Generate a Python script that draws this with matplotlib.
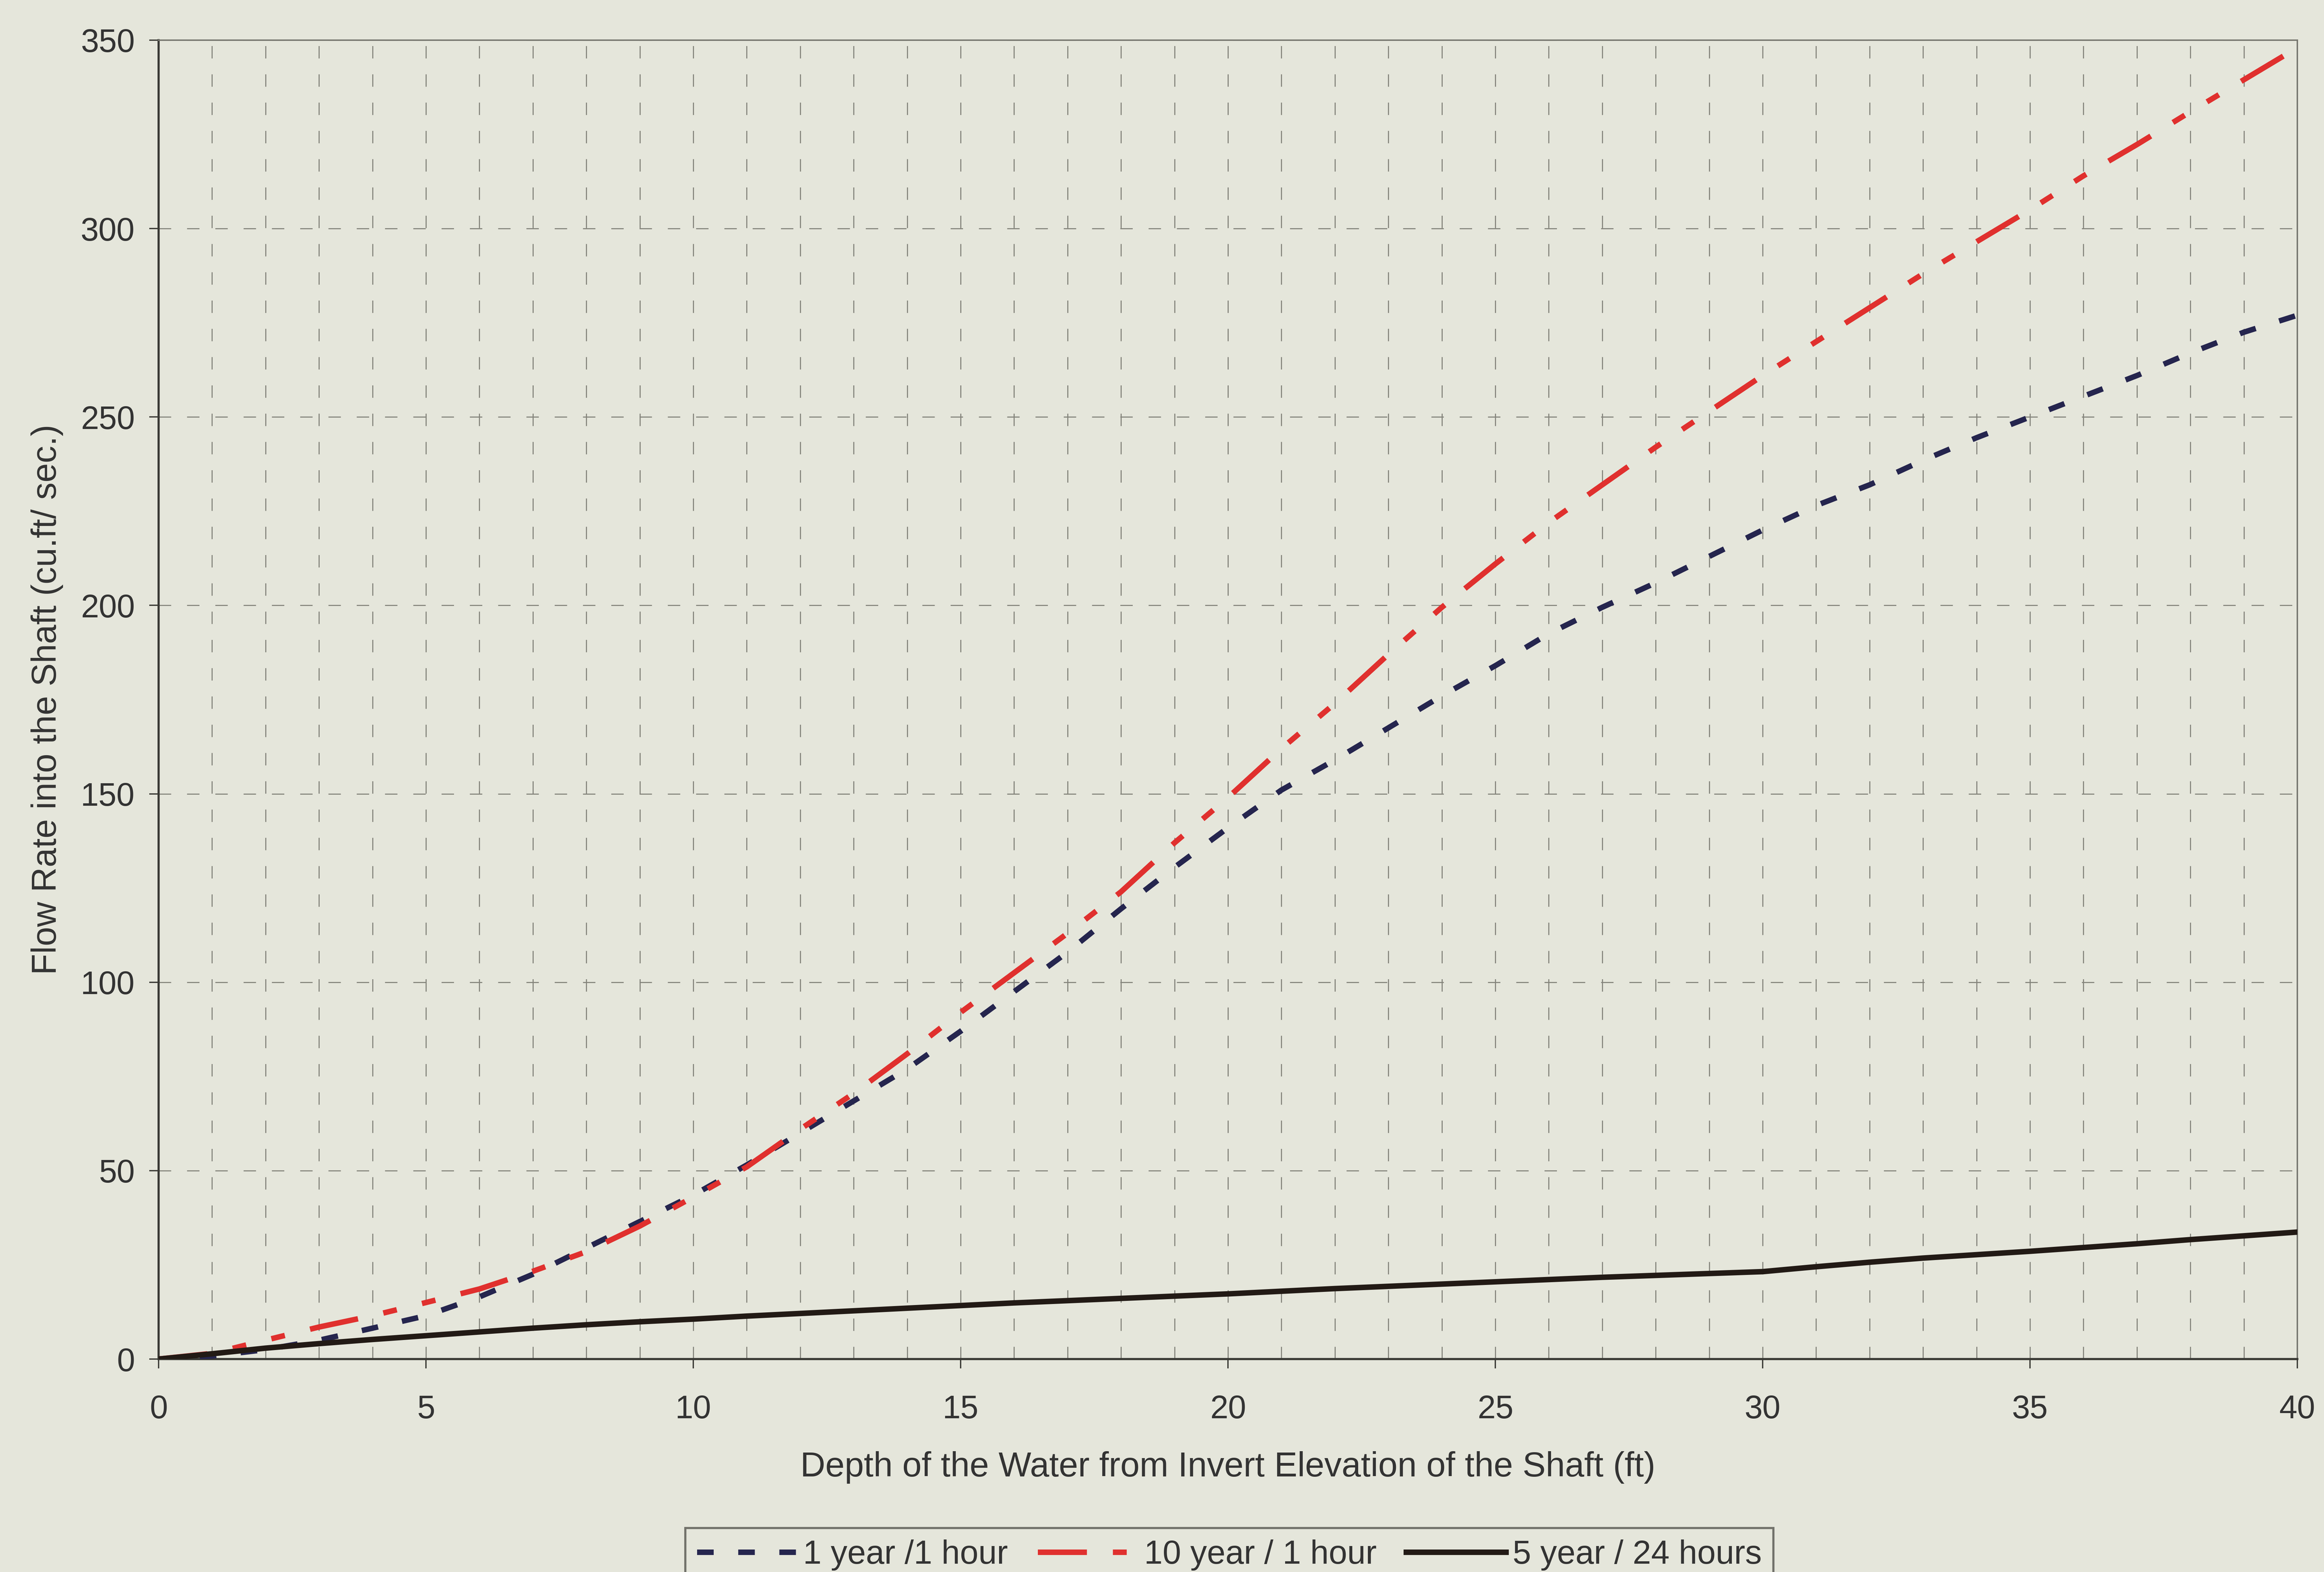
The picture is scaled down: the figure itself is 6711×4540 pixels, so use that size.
import matplotlib
matplotlib.use("Agg")
import matplotlib.pyplot as plt
from matplotlib.ticker import MultipleLocator

plt.rcParams['font.family'] = ['Liberation Sans', 'DejaVu Sans']
plt.rcParams['lines.scale_dashes'] = False

depth = list(range(0, 41))

# 1 year / 1 hour
q_1yr = [0, 0.8, 2.5, 5, 8.2, 11.5, 16.5, 22.5, 29.5, 36.5, 43.5,
         51.5, 60, 68.5, 77, 87, 97.5, 108, 119.5, 130.5, 141,
         151, 159, 167.5, 176, 184, 192.5, 199.5, 206, 213, 220,
         226.5, 232, 238.5, 244.5, 250, 255.5, 261, 267, 272.5, 277]

# 10 year / 1 hour
q_10yr = [0, 1.5, 5, 8.5, 11.5, 15, 18.6, 23.3, 28.5, 35.3, 43,
          51, 61, 70.5, 81, 92, 102.5, 113, 124, 137, 149,
          162, 174, 187, 199.5, 211, 222, 232, 242, 251.5, 261,
          270, 279, 288, 296.5, 305, 314, 322.3, 331, 339.5, 348]

# 5 year / 24 hours
q_5yr = [0, 1.4, 2.9, 4.1, 5.2, 6.2, 7.2, 8.2, 9.1, 9.9, 10.6,
         11.4, 12.1, 12.8, 13.5, 14.2, 14.9, 15.5, 16.1, 16.7, 17.3,
         18, 18.7, 19.3, 19.9, 20.5, 21.1, 21.7, 22.2, 22.7, 23.2,
         24.5, 25.7, 26.8, 27.7, 28.6, 29.6, 30.6, 31.7, 32.7, 33.7]

labels = ["1 year /1 hour", "10 year / 1 hour", "5 year / 24 hours"]

bg = '#e5e6db'
txt = '#333333'

fig = plt.figure(figsize=(6711/300, 4540/300), dpi=300, facecolor=bg)
ax = fig.add_axes([0.06825, 0.13546, 0.92028, 0.83899], facecolor=bg)

lw = 3.8
ax.plot(depth, q_1yr, color='#25254e', lw=lw, dashes=(11.5, 17),
        dash_capstyle='butt', label=labels[0], zorder=3)
ax.plot(depth, q_10yr, color='#e0302e', lw=lw,
        dashes=(34, 18, 9.6, 18, 9.6, 18),
        dash_capstyle='butt', label=labels[1], zorder=3)
ax.plot(depth, q_5yr, color='#221a15', lw=lw, label=labels[2], zorder=4)

ax.set_xlim(0, 40)
ax.set_ylim(0, 350)
ax.xaxis.set_major_locator(MultipleLocator(5))
ax.xaxis.set_minor_locator(MultipleLocator(1))
ax.yaxis.set_major_locator(MultipleLocator(50))

ax.set_axisbelow(True)
gkw = dict(color='#85857c', lw=0.75, dashes=(8.6, 11))
ax.grid(True, axis='x', which='both', **gkw)
ax.grid(True, axis='y', which='major', **gkw)

ax.tick_params(axis='both', which='major', direction='out', length=6.5,
               width=0.9, color='#3a3a35', labelsize=22.5, labelcolor=txt)
ax.tick_params(axis='x', which='major', pad=18)
ax.tick_params(axis='y', which='major', pad=10)
ax.tick_params(axis='x', which='minor', length=0)

for s in ['left', 'bottom']:
    ax.spines[s].set_color('#3a3a35')
    ax.spines[s].set_linewidth(1.5)
for s in ['top', 'right']:
    ax.spines[s].set_color('#77776f')
    ax.spines[s].set_linewidth(1.0)

ax.set_xlabel('Depth of the Water from Invert Elevation of the Shaft (ft)',
              fontsize=24, color=txt, labelpad=18)
ax.set_ylabel('Flow Rate into the Shaft (cu.ft/ sec.)',
              fontsize=24, color=txt, labelpad=12)

leg = fig.legend(loc='upper center', bbox_to_anchor=(0.529, 0.028), ncol=3,
                 fontsize=23, frameon=True, fancybox=False, handlelength=3,
                 handletextpad=0.2, columnspacing=0.9, borderpad=0.35,
                 borderaxespad=0)
leg.get_frame().set_facecolor(bg)
leg.get_frame().set_edgecolor('#55554f')
leg.get_frame().set_linewidth(1.5)
for t in leg.get_texts():
    t.set_color(txt)

fig.savefig('out.png', dpi=300, facecolor=bg)
